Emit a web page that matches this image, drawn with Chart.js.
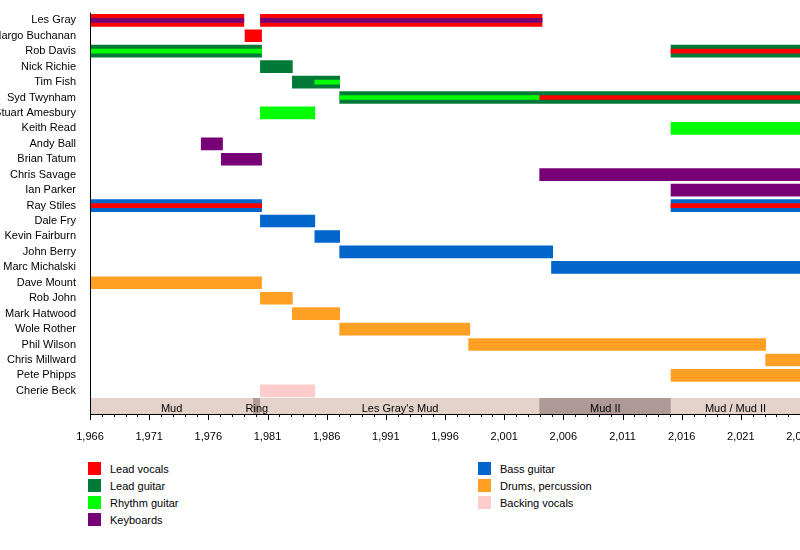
<!DOCTYPE html>
<html>
<head>
<meta charset="utf-8">
<script src="https://cdn.jsdelivr.net/npm/chart.js@4/dist/chart.umd.min.js"></script>
<style>
  body { margin: 0; background: #fff; overflow: hidden; font-family: "Liberation Sans", Arial, sans-serif; }
  #wrap { position: relative; width: 800px; height: 450px; }
  .legend { position: absolute; font-size: 11px; color: #000; }
  .legend div { height: 17px; line-height: 14px; }
  .legend span { display: inline-block; width: 13px; height: 13px; vertical-align: top; margin-right: 9px; }
</style>
</head>
<body>
<div id="wrap"><canvas id="chart"></canvas></div>
<div class="legend" style="left:88px; top:462px;" id="legL"></div>
<div class="legend" style="left:478px; top:462px;" id="legR"></div>
<script>
// Members (rows)
const members = ['Les Gray', 'Margo Buchanan', 'Rob Davis', 'Nick Richie', 'Tim Fish', 'Syd Twynham',
  'Stuart Amesbury', 'Keith Read', 'Andy Ball', 'Brian Tatum', 'Chris Savage', 'Ian Parker',
  'Ray Stiles', 'Dale Fry', 'Kevin Fairburn', 'John Berry', 'Marc Michalski', 'Dave Mount',
  'Rob John', 'Mark Hatwood', 'Wole Rother', 'Phil Wilson', 'Chris Millward', 'Pete Phipps', 'Cherie Beck'];
const eraRow = ' ';

// Roles
const roleNames = ['Lead vocals', 'Lead guitar', 'Rhythm guitar', 'Keyboards', 'Bass guitar', 'Drums, percussion', 'Backing vocals'];
const roleColors = ['#ff0000', '#007a36', '#00ff00', '#770077', '#0066cc', '#ffa024', '#ffcccc'];

// Main spans: [member, role, start, end]
const mainSpans = [
  ['Les Gray', 0, 1966, 1979], ['Les Gray', 0, 1980.4, 2004.2],
  ['Margo Buchanan', 0, 1979.1, 1980.5],
  ['Rob Davis', 1, 1966, 1980.5], ['Rob Davis', 1, 2015.1, 2026],
  ['Nick Richie', 1, 1980.4, 1983.1],
  ['Tim Fish', 1, 1983.1, 1987.1],
  ['Syd Twynham', 1, 1987.1, 2026],
  ['Stuart Amesbury', 2, 1980.4, 1985],
  ['Keith Read', 2, 2015.1, 2026],
  ['Andy Ball', 3, 1975.4, 1977.2],
  ['Brian Tatum', 3, 1977.1, 1980.5],
  ['Chris Savage', 3, 2004, 2026],
  ['Ian Parker', 3, 2015.1, 2026],
  ['Ray Stiles', 4, 1966, 1980.5], ['Ray Stiles', 4, 2015.1, 2026],
  ['Dale Fry', 4, 1980.4, 1985],
  ['Kevin Fairburn', 4, 1985, 1987.1],
  ['John Berry', 4, 1987.1, 2005.1],
  ['Marc Michalski', 4, 2005, 2026],
  ['Dave Mount', 5, 1966, 1980.5],
  ['Rob John', 5, 1980.4, 1983.1],
  ['Mark Hatwood', 5, 1983.1, 1987.1],
  ['Wole Rother', 5, 1987.1, 1998.1],
  ['Phil Wilson', 5, 1998, 2023.1],
  ['Chris Millward', 5, 2023.1, 2026],
  ['Pete Phipps', 5, 2015.1, 2026],
  ['Cherie Beck', 6, 1980.4, 1985]
];

// Secondary role stripes: [member, role, start, end]
const stripeSpans = [
  ['Les Gray', 3, 1966, 1979], ['Les Gray', 3, 1980.4, 2004.2],
  ['Rob Davis', 2, 1966, 1980.5], ['Rob Davis', 0, 2015.1, 2026],
  ['Tim Fish', 2, 1985, 1987.1],
  ['Syd Twynham', 2, 1987.1, 2004], ['Syd Twynham', 0, 2004, 2026],
  ['Ray Stiles', 0, 1966, 1980.5], ['Ray Stiles', 0, 2015.1, 2026]
];

// Band eras
const eraNames = ['Mud', 'Ring', "Les Gray's Mud", 'Mud II', 'Mud / Mud II'];
const eraStart = [1966, 1979.8, 1980.4, 2004, 2015.1];
const eraEnd = [1979.8, 1980.4, 2004, 2015.1, 2026];
const eraColors = ['#e3d3cb', '#b19c98', '#e3d3cb', '#af9898', '#e3d3cb'];

const labels = members.concat([eraRow]);

const datasets = [];
roleNames.forEach((r, i) => {
  datasets.push({
    label: r, order: 2, grouped: false, barThickness: 12, backgroundColor: roleColors[i],
    data: mainSpans.filter(s => s[1] === i).map(s => ({ y: s[0], x: [s[2], s[3]] }))
  });
  const st = stripeSpans.filter(s => s[1] === i);
  if (st.length) {
    datasets.push({
      label: r + ' (2)', order: 1, grouped: false, barThickness: 4, backgroundColor: roleColors[i],
      data: st.map(s => ({ y: s[0], x: [s[2], s[3]] }))
    });
  }
});
datasets.push({
  label: 'eras', order: 3, grouped: false, barThickness: 16,
  backgroundColor: eraColors,
  data: eraNames.map((n, i) => ({ y: eraRow, x: [eraStart[i], eraEnd[i]] }))
});

// Era labels, minor ticks and axis lines
const extras = {
  id: 'extras',
  afterDatasetsDraw(chart) {
    const ctx = chart.ctx, xs = chart.scales.x, ys = chart.scales.y;
    const yEra = ys.getPixelForValue(labels.length - 1);
    ctx.save();
    ctx.fillStyle = '#000';
    ctx.font = '11px "Liberation Sans", Arial, sans-serif';
    ctx.textAlign = 'center';
    ctx.textBaseline = 'middle';
    eraNames.forEach((n, i) => {
      let mid = (xs.getPixelForValue(eraStart[i]) + xs.getPixelForValue(eraEnd[i])) / 2;
      ctx.fillText(n, mid, yEra + 3);
    });
    const bottom = chart.chartArea.bottom;
    ctx.strokeStyle = '#000';
    ctx.lineWidth = 1;
    ctx.beginPath();
    ctx.moveTo(chart.chartArea.left + 0.5, chart.chartArea.top);
    ctx.lineTo(chart.chartArea.left + 0.5, bottom);
    ctx.moveTo(chart.chartArea.left, bottom + 0.5);
    ctx.lineTo(chart.chartArea.right, bottom + 0.5);
    for (let y = 1966; y <= 2026; y++) {
      const px = Math.round(xs.getPixelForValue(y)) + 0.5;
      ctx.moveTo(px, bottom);
      ctx.lineTo(px, bottom + ((y - 1966) % 5 === 0 ? 6 : 3));
    }
    ctx.stroke();
    ctx.restore();
  }
};

// Legend
function buildLegend() {
  const left = [0, 1, 2, 3], right = [4, 5, 6];
  document.getElementById('legL').innerHTML = left.map(i => `<div><span style="background:${roleColors[i]}"></span>${roleNames[i]}</div>`).join('');
  document.getElementById('legR').innerHTML = right.map(i => `<div><span style="background:${roleColors[i]}"></span>${roleNames[i]}</div>`).join('');
}

function initChart() {
  Chart.defaults.font.family = '"Liberation Sans", Arial, sans-serif';
  Chart.defaults.font.size = 11;
  Chart.defaults.color = '#000';
  const canvas = document.getElementById('chart');
  canvas.width = 800; canvas.height = 450;
  new Chart(canvas.getContext('2d'), {
    type: 'bar',
    data: { labels, datasets },
    plugins: [extras],
    options: {
      responsive: false,
      animation: false,
      indexAxis: 'y',
      layout: { padding: { top: 0, right: 0, bottom: 0, left: 0 } },
      plugins: { legend: { display: false }, tooltip: { enabled: false } },
      scales: {
        x: {
          type: 'linear', min: 1966, max: 2026,
          grid: { display: false }, border: { display: false },
          ticks: { stepSize: 5, padding: 8, color: '#000', font: { size: 11 } },
          afterFit(s) { s.paddingRight = 0; s.height = 36; }
        },
        y: {
          grid: { display: false }, border: { display: false },
          ticks: { padding: 6, color: '#000', autoSkip: false, font: { size: 11 } },
          afterFit(s) { s.width = 90; }
        }
      }
    }
  });
  buildLegend();
}

initChart();
</script>
</body>
</html>
